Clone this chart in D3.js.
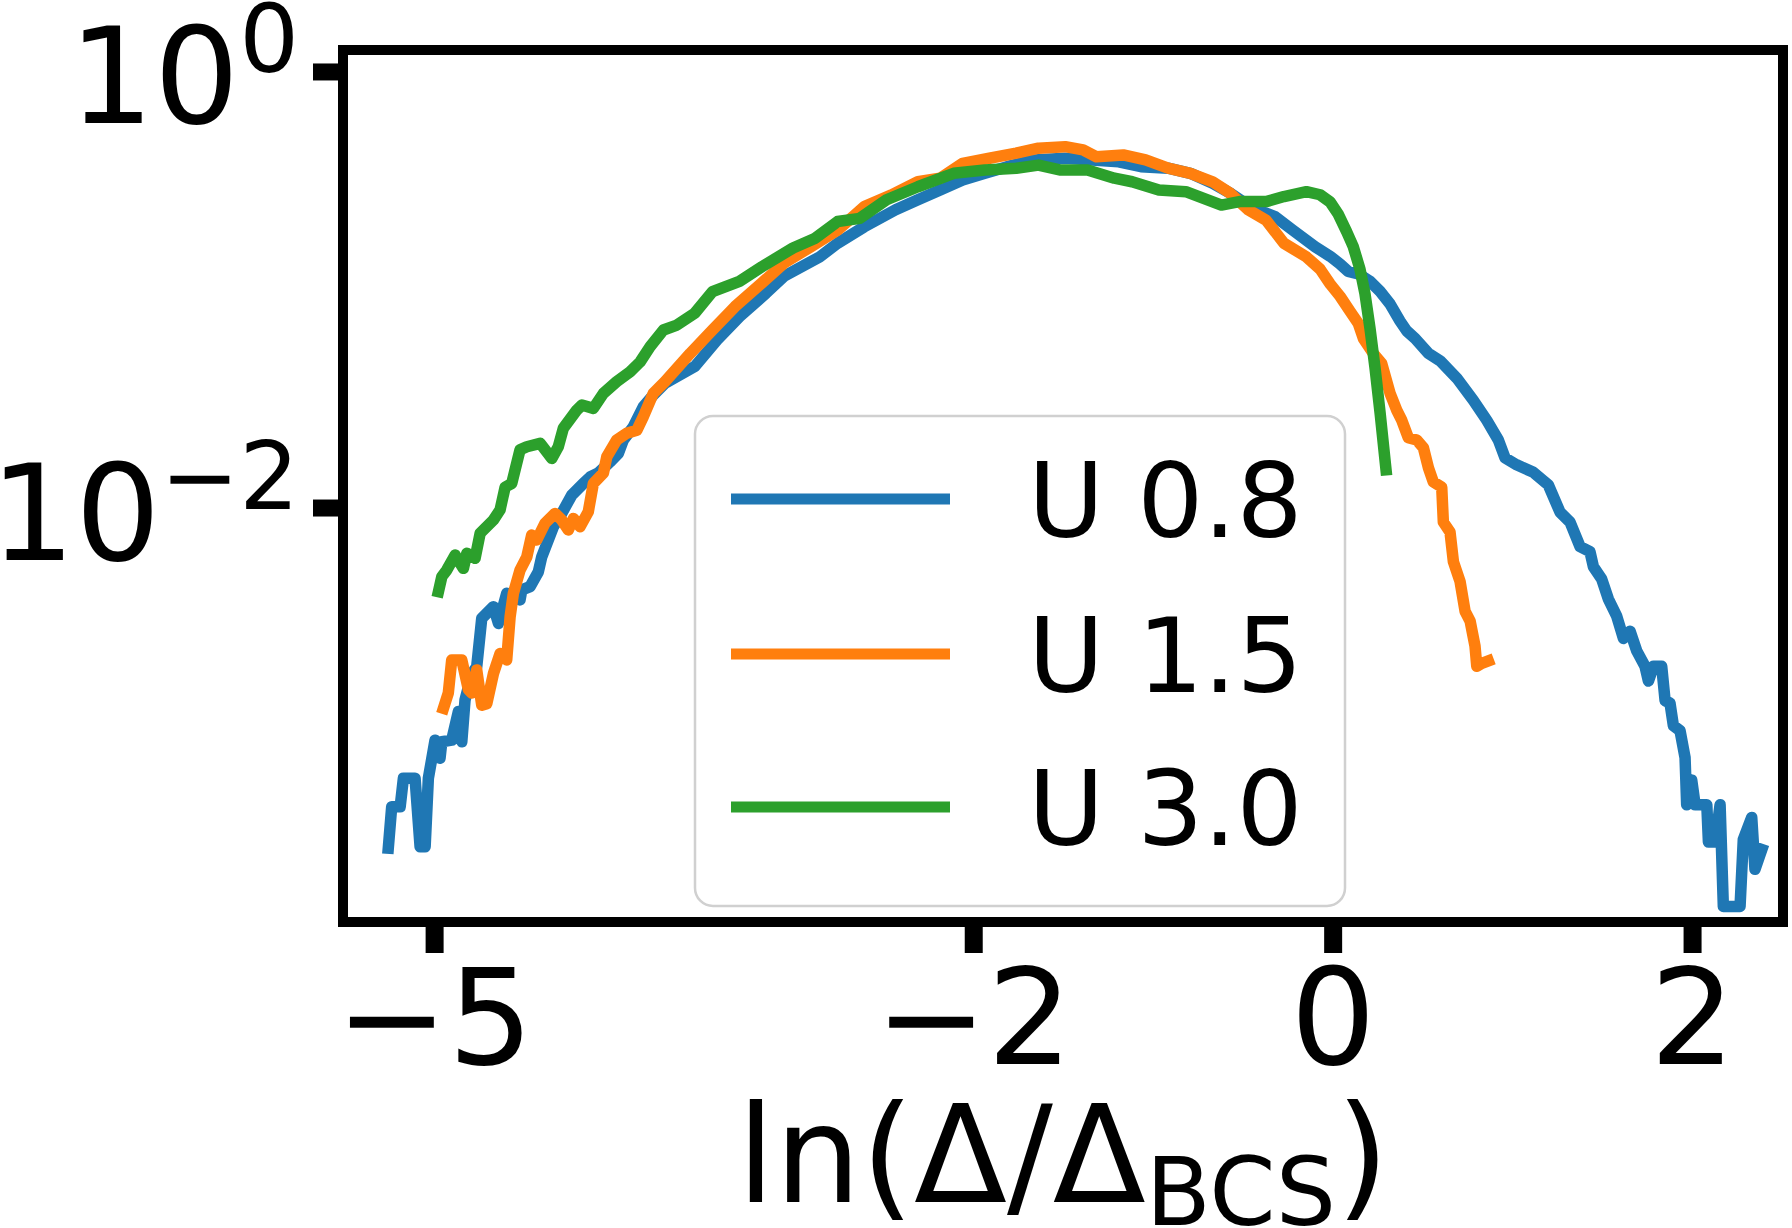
<!DOCTYPE html>
<html><head><meta charset="utf-8">
<script src="https://cdn.jsdelivr.net/npm/d3@7"></script>
<style>html,body{margin:0;padding:0;background:#fff;} svg{display:block;} text{font-family:"DejaVu Sans",sans-serif;}</style>
</head><body><svg id="c" width="1792" height="1228"></svg>
<script>
const seriesNames = ["U 0.8", "U 1.5", "U 3.0"];
const seriesColors = ["#1f77b4", "#ff7f0e", "#2ca02c"];

const u08X = [-5.255,-5.236,-5.189,-5.171,-5.106,-5.078,-5.050,-5.032,-4.995,-4.967,-4.957,-4.902,-4.865,-4.846,-4.828,-4.790,-4.763,-4.735,-4.670,-4.642,-4.596,-4.522,-4.512,-4.466,-4.420,-4.401,-4.336,-4.290,-4.234,-4.169,-4.132,-4.086,-4.021,-3.975,-3.947,-3.891,-3.836,-3.780,-3.715,-3.550,-3.426,-3.301,-3.153,-3.053,-2.855,-2.755,-2.606,-2.432,-2.308,-2.184,-2.059,-1.935,-1.811,-1.662,-1.488,-1.339,-1.190,-1.066,-0.916,-0.792,-0.668,-0.569,-0.445,-0.321,-0.221,-0.097,-0.014,0.041,0.087,0.143,0.208,0.264,0.319,0.375,0.412,0.459,0.533,0.598,0.691,0.783,0.858,0.922,0.959,1.024,1.117,1.200,1.265,1.321,1.377,1.432,1.451,1.497,1.534,1.581,1.618,1.655,1.692,1.738,1.757,1.785,1.831,1.850,1.877,1.896,1.933,1.961,1.970,1.998,2.017,2.082,2.091,2.128,2.156,2.174,2.267,2.285,2.332,2.350,2.388];
const u08P = [0.000274,0.000424,0.000424,0.000573,0.000573,0.000278,0.000278,0.000573,0.000857,0.000708,0.000843,0.000857,0.00116,0.000843,0.00131,0.00173,0.00186,0.00310,0.00351,0.00294,0.00404,0.00377,0.00419,0.00434,0.00507,0.00594,0.00817,0.00940,0.0114,0.0129,0.0138,0.0144,0.0162,0.0177,0.0204,0.0235,0.0290,0.0328,0.0372,0.0443,0.0586,0.0750,0.0962,0.115,0.141,0.163,0.194,0.232,0.258,0.286,0.318,0.341,0.366,0.393,0.400,0.393,0.385,0.366,0.360,0.341,0.307,0.276,0.236,0.216,0.187,0.157,0.142,0.131,0.121,0.118,0.109,0.0980,0.0859,0.0716,0.0646,0.0596,0.0509,0.0471,0.0392,0.0310,0.0251,0.0204,0.0169,0.0157,0.0145,0.0127,0.00953,0.00857,0.00661,0.00627,0.00535,0.00470,0.00381,0.00317,0.00251,0.00271,0.00220,0.00187,0.00160,0.00187,0.00187,0.00130,0.00127,0.00100,0.000948,0.000713,0.000433,0.000562,0.000433,0.000433,0.000292,0.000292,0.000433,0.000148,0.000148,0.000300,0.000379,0.000219,0.000270];

const u15X = [-4.948,-4.921,-4.902,-4.846,-4.809,-4.790,-4.763,-4.735,-4.707,-4.670,-4.633,-4.596,-4.577,-4.559,-4.522,-4.484,-4.457,-4.429,-4.383,-4.327,-4.290,-4.253,-4.225,-4.188,-4.142,-4.114,-4.058,-4.039,-3.984,-3.928,-3.872,-3.836,-3.780,-3.715,-3.575,-3.451,-3.326,-3.177,-3.053,-2.904,-2.755,-2.606,-2.457,-2.308,-2.184,-2.059,-1.910,-1.761,-1.637,-1.488,-1.389,-1.314,-1.165,-1.041,-0.916,-0.792,-0.668,-0.569,-0.470,-0.370,-0.271,-0.146,-0.070,-0.014,0.041,0.097,0.143,0.171,0.226,0.273,0.319,0.357,0.385,0.421,0.468,0.505,0.533,0.560,0.607,0.616,0.653,0.672,0.709,0.737,0.765,0.792,0.802,0.830,0.866];
const u15P = [0.00120,0.00141,0.00200,0.00200,0.00146,0.00141,0.00180,0.00124,0.00126,0.00173,0.00214,0.00200,0.00316,0.00404,0.00516,0.00594,0.00748,0.00710,0.00847,0.00940,0.00877,0.00789,0.00891,0.00817,0.00957,0.0129,0.0144,0.0171,0.0204,0.0219,0.0226,0.0261,0.0334,0.0378,0.0509,0.0652,0.0834,0.107,0.132,0.157,0.187,0.240,0.271,0.312,0.324,0.379,0.400,0.422,0.445,0.452,0.437,0.406,0.414,0.393,0.360,0.341,0.312,0.276,0.232,0.208,0.163,0.141,0.124,0.106,0.0931,0.0794,0.0698,0.0596,0.0509,0.0458,0.0335,0.0279,0.0251,0.0209,0.0204,0.0188,0.0152,0.0131,0.0124,0.00857,0.00773,0.00564,0.00458,0.00334,0.00301,0.00232,0.00187,0.00193,0.00198];

const u30X = [-4.976,-4.957,-4.930,-4.883,-4.837,-4.818,-4.772,-4.744,-4.670,-4.633,-4.605,-4.568,-4.522,-4.484,-4.410,-4.345,-4.309,-4.281,-4.206,-4.178,-4.114,-4.058,-3.984,-3.910,-3.854,-3.798,-3.724,-3.649,-3.550,-3.451,-3.301,-3.177,-3.003,-2.879,-2.755,-2.631,-2.482,-2.308,-2.109,-1.935,-1.761,-1.637,-1.513,-1.364,-1.215,-1.116,-0.967,-0.817,-0.619,-0.519,-0.370,-0.271,-0.146,-0.070,-0.014,0.032,0.078,0.115,0.152,0.180,0.208,0.236,0.264,0.297];
const u30P = [0.00411,0.00482,0.00516,0.00605,0.00526,0.00617,0.00585,0.00762,0.00877,0.00975,0.0124,0.0129,0.0184,0.0190,0.0197,0.0168,0.0190,0.0231,0.0280,0.0295,0.0285,0.0334,0.0378,0.0419,0.0465,0.0547,0.0652,0.0687,0.0778,0.0977,0.109,0.127,0.155,0.172,0.205,0.212,0.258,0.296,0.341,0.353,0.360,0.372,0.353,0.353,0.324,0.312,0.286,0.281,0.244,0.253,0.253,0.267,0.281,0.272,0.252,0.221,0.184,0.157,0.124,0.0955,0.0662,0.0435,0.0272,0.0149];

const xTicks = [-5, -2, 0, 2];
const xTickLabels = ["\u22125", "\u22122", "0", "2"];
const yTicks = [1, 0.01];
const yTickBase = ["10", "10"];
const yTickExp = ["0", "\u22122"];

const svg = d3.select("#c");
const M = {left: 343, right: 1783, top: 50, bottom: 922};
svg.append("rect").attr("width", 1792).attr("height", 1228).attr("fill", "#fff");

const x = d3.scaleLinear().domain([-5.507, 2.506]).range([M.left, M.right]);
const y = d3.scaleLog().domain([1.256e-4, 1.2545]).range([M.bottom, M.top]);

svg.append("clipPath").attr("id", "clip").append("rect")
  .attr("x", M.left).attr("y", M.top).attr("width", M.right - M.left).attr("height", M.bottom - M.top);

const series = [
  d3.zip(u08X, u08P),
  d3.zip(u15X, u15P),
  d3.zip(u30X, u30P)
];
const line = d3.line().x(d => x(d[0])).y(d => y(d[1]));
const gLines = svg.append("g").attr("clip-path", "url(#clip)");
series.forEach((s, i) => {
  gLines.append("path").datum(s).attr("d", line)
    .attr("fill", "none").attr("stroke", seriesColors[i]).attr("stroke-width", 11.5)
    .attr("stroke-linejoin", "round").attr("stroke-linecap", "square");
});

// Axes
const xAxis = d3.axisBottom(x).tickValues(xTicks).tickSize(31).tickFormat((d, i) => xTickLabels[i]);
const gx = svg.append("g").attr("transform", `translate(0,${M.bottom})`).call(xAxis)
  .attr("font-family", "DejaVu Sans").attr("font-size", 134);
gx.select(".domain").remove();
gx.selectAll(".tick line").attr("stroke", "#000").attr("stroke-width", 18);
gx.selectAll(".tick text").attr("y", 142).attr("dy", null).attr("fill", "#000");

const yAxis = d3.axisLeft(y).tickValues(yTicks).tickSize(30).tickFormat(() => "");
const gy = svg.append("g").attr("transform", `translate(${M.left},0)`).call(yAxis)
  .attr("font-family", "DejaVu Sans").attr("font-size", 134);
gy.select(".domain").remove();
gy.selectAll(".tick line").attr("stroke", "#000").attr("stroke-width", 17);
gy.selectAll(".tick text").each(function(d, i) {
  const t = d3.select(this);
  t.text(null).attr("x", -44).attr("y", 51.5).attr("dy", null).attr("text-anchor", "end").attr("fill", "#000");
  t.append("tspan").text(yTickBase[i]);
  t.append("tspan").attr("font-size", 94).attr("dy", -51).text(yTickExp[i]);
});

// Frame
svg.append("rect").attr("x", M.left).attr("y", M.top)
  .attr("width", M.right - M.left).attr("height", M.bottom - M.top)
  .attr("fill", "none").attr("stroke", "#000").attr("stroke-width", 10).attr("stroke-linejoin", "miter");

// X label
const xl = svg.append("text").attr("x", (M.left + M.right) / 2).attr("y", 1202)
  .attr("text-anchor", "middle").attr("font-size", 136).attr("fill", "#000");
xl.append("tspan").text("ln(\u0394/\u0394");
xl.append("tspan").attr("font-size", 95).attr("dy", 23).text("BCS");
xl.append("tspan").attr("dy", -23).text(")");

// Legend
const lg = svg.append("g");
lg.append("rect").attr("x", 695).attr("y", 416).attr("width", 650).attr("height", 490)
  .attr("rx", 18).attr("ry", 18).attr("fill", "#fff").attr("fill-opacity", 0.8)
  .attr("stroke", "#d0d0d0").attr("stroke-width", 2.5);
const rowY = [499, 654, 807];
seriesNames.forEach((n, i) => {
  lg.append("line").attr("x1", 731).attr("x2", 950).attr("y1", rowY[i]).attr("y2", rowY[i])
    .attr("stroke", seriesColors[i]).attr("stroke-width", 11);
  lg.append("text").attr("x", 1028).attr("y", rowY[i] + 37.5).attr("font-size", 104)
    .attr("fill", "#000").text(n);
});
</script>
</body></html>
